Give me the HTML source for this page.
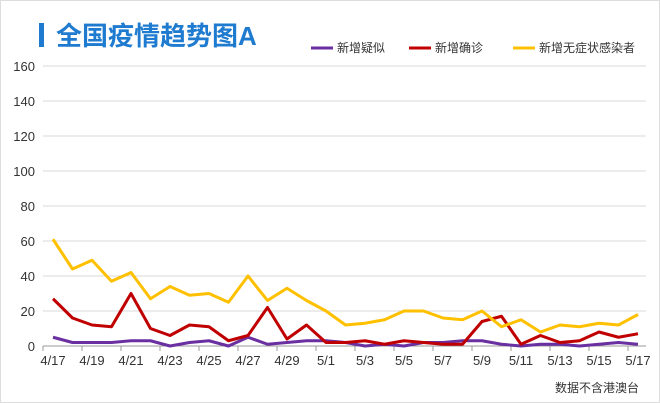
<!DOCTYPE html>
<html><head><meta charset="utf-8"><style>
body{margin:0;background:#fff;font-family:"Liberation Sans","Noto Sans CJK SC",sans-serif;}
#wrap{position:relative;width:660px;height:403px;overflow:hidden;border:1px solid #ddd;box-sizing:border-box}
</style></head><body>
<div id="wrap">
<svg id="chart" width="660" height="403"></svg>
</div>
<script>
const categories=["4/17","4/18","4/19","4/20","4/21","4/22","4/23","4/24","4/25","4/26","4/27","4/28","4/29","4/30","5/1","5/2","5/3","5/4","5/5","5/6","5/7","5/8","5/9","5/10","5/11","5/12","5/13","5/14","5/15","5/16","5/17"];
const suspected=[5,2,2,2,3,3,0,2,3,0,5,1,2,3,3,2,0,1,0,2,2,3,3,1,0,1,1,0,1,2,1];
const confirmed=[27,16,12,11,30,10,6,12,11,3,6,22,4,12,2,2,3,1,3,2,1,1,14,17,1,6,2,3,8,5,7];
const asymptomatic=[61,44,49,37,42,27,34,29,30,25,40,26,33,26,20,12,13,15,20,20,16,15,20,11,15,8,12,11,13,12,18];
const yTicks=[0,20,40,60,80,100,120,140,160];
const seriesNames=["新增疑似","新增确诊","新增无症状感染者"];
const seriesColors=["#6a2fa0","#c00000","#ffc000"];
const NS="http://www.w3.org/2000/svg";
const svg=document.getElementById('chart');
function mk(t,a){const e=document.createElementNS(NS,t);for(const k in a)e.setAttribute(k,a[k]);svg.appendChild(e);return e;}
const x0=52,step=19.5,y0=345,ppu=1.75;
const xs=i=>x0+i*step, ys=v=>y0-v*ppu;
let e=mk('rect',{x:38,y:22,width:5,height:24,fill:'#1e7bd0'});

e=mk('text',{x:55,y:44,'font-size':26,'font-weight':'bold',fill:'#1e7bd0'});e.textContent='全国疫情趋势图A';

const lx=[310,408,512];
seriesNames.forEach((n,i)=>{
 let l=mk('line',{x1:lx[i],x2:lx[i]+22,y1:47,y2:47,stroke:seriesColors[i],'stroke-width':3});
 
 let t=mk('text',{x:lx[i]+26,y:51,'font-size':12,fill:'#333'});t.textContent=n;
 
});
yTicks.forEach(v=>{
 let g=mk('line',{x1:42,x2:645,y1:ys(v),y2:ys(v),stroke:v===0?'#999':'#d9d9d9','stroke-width':1});
 
 let t=mk('text',{x:34,y:ys(v)+5,'font-size':13,fill:'#333','text-anchor':'end'});t.textContent=v;
 
});
categories.forEach((c,i)=>{
 if(i%2)return;
 let tk=mk('line',{x1:xs(i)-10,x2:xs(i)-10,y1:y0,y2:y0+5,stroke:'#999'});
 
 let t=mk('text',{x:xs(i),y:y0+19,'font-size':13,fill:'#333','text-anchor':'middle'});t.textContent=c;
 
});
[suspected,confirmed,asymptomatic].forEach((d,s)=>{
 const pts=d.map((v,i)=>xs(i)+','+ys(v)).join(' ');
 let p=mk('polyline',{points:pts,fill:'none',stroke:seriesColors[s],'stroke-width':3,'stroke-linejoin':'round'});
 
});
e=mk('text',{x:638,y:391,'font-size':12,fill:'#333','text-anchor':'end'});e.textContent='数据不含港澳台';

</script>
</body></html>
